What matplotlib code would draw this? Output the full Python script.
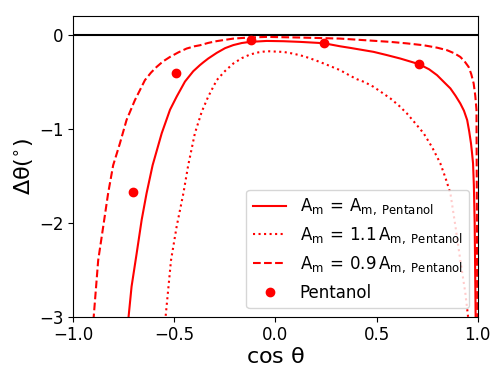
import matplotlib
matplotlib.use("Agg")
import matplotlib.pyplot as plt

# upright greek letters like in the reference
plt.rcParams['mathtext.default'] = 'regular'

# Values
# Solid curve: A_m = A_m,Pentanol
solid_x = [-0.728, -0.711, -0.686, -0.661, -0.637, -0.607, -0.562, -0.521, -0.488,
           -0.447, -0.406, -0.373, -0.356, -0.332, -0.290, -0.249, -0.208, -0.166,
           -0.125, -0.043, 0.040, 0.122, 0.238, 0.320, 0.370, 0.485, 0.550, 0.617,
           0.710, 0.760, 0.799, 0.840, 0.865, 0.890, 0.914, 0.932, 0.948, 0.958,
           0.967, 0.972, 0.977, 0.981, 0.985, 0.990]
solid_y = [-3.05, -2.68, -2.33, -1.97, -1.69, -1.39, -1.05, -0.80, -0.66,
           -0.50, -0.39, -0.325, -0.295, -0.255, -0.195, -0.145, -0.112, -0.090,
           -0.078, -0.068, -0.071, -0.078, -0.092, -0.125, -0.142, -0.184, -0.218, -0.255,
           -0.315, -0.370, -0.432, -0.520, -0.573, -0.650, -0.733, -0.810, -0.91, -1.03,
           -1.16, -1.26, -1.37, -1.60, -2.0, -3.05]

# Dotted curve: A_m = 1.1 A_m,Pentanol
dot_x = [-0.545, -0.516, -0.488, -0.455, -0.431, -0.398, -0.364, -0.332, -0.290,
         -0.250, -0.208, -0.165, -0.125, -0.085, -0.043, 0.040, 0.080, 0.122, 0.165,
         0.205, 0.245, 0.287, 0.320, 0.370, 0.403, 0.440, 0.485, 0.525, 0.568,
         0.610, 0.650, 0.690, 0.733, 0.775, 0.815, 0.840, 0.865, 0.890, 0.914,
         0.939, 0.955]
dot_y = [-3.05, -2.40, -2.04, -1.69, -1.39, -1.05, -0.82, -0.66, -0.485,
         -0.390, -0.308, -0.250, -0.212, -0.190, -0.177, -0.185, -0.200, -0.220, -0.248,
         -0.280, -0.313, -0.350, -0.379, -0.439, -0.475, -0.505, -0.556, -0.615, -0.679,
         -0.755, -0.839, -0.940, -1.051, -1.200, -1.369, -1.520, -1.688, -2.04, -2.40,
         -2.75, -3.05]

# Dashed curve: A_m = 0.9 A_m,Pentanol
dash_x = [-0.900, -0.876, -0.851, -0.827, -0.802, -0.769, -0.736, -0.695, -0.645,
          -0.615, -0.587, -0.555, -0.521, -0.480, -0.439, -0.400, -0.373, -0.332,
          -0.290, -0.208, -0.130, -0.043, 0.122, 0.320, 0.568, 0.650, 0.733, 0.800,
          0.849, 0.885, 0.914, 0.935, 0.955, 0.968, 0.980, 0.988, 0.994, 0.998]
dash_y = [-3.05, -2.40, -2.04, -1.69, -1.39, -1.16, -0.91, -0.70, -0.485,
          -0.405, -0.344, -0.285, -0.238, -0.190, -0.149, -0.125, -0.114, -0.089,
          -0.070, -0.043, -0.032, -0.025, -0.032, -0.043, -0.078, -0.094, -0.114, -0.140,
          -0.167, -0.200, -0.238, -0.285, -0.344, -0.420, -0.52, -0.65, -0.80, -3.05]

# Measured points for pentanol
pent_x = [-0.703, -0.492, -0.120, 0.241, 0.710]
pent_y = [-1.677, -0.414, -0.053, -0.092, -0.315]

fig = plt.figure(figsize=(4.94, 3.66), dpi=100)
ax = fig.add_axes([0.148, 0.135, 0.819, 0.822])

# Reference line at zero
ax.axhline(0, color='black', lw=1.5)

ax.plot(solid_x, solid_y, '-', color='red', lw=1.5,
        label=r'$A_m\,=\,A_{m,\ Pentanol}$')
ax.plot(dot_x, dot_y, ':', color='red', lw=1.5,
        label=r'$A_m\,=\,1.1\,A_{m,\ Pentanol}$')
ax.plot(dash_x, dash_y, '--', color='red', lw=1.5,
        label=r'$A_m\,=\,0.9\,A_{m,\ Pentanol}$')
ax.plot(pent_x, pent_y, 'o', color='red', ms=6, label='Pentanol')

ax.set_xlim(-1, 1)
ax.set_ylim(-3, 0.2)
ax.set_xticks([-1.0, -0.5, 0.0, 0.5, 1.0])
ax.set_yticks([-3, -2, -1, 0])
ax.tick_params(labelsize=12)

ax.set_xlabel(r'$\cos\,\theta$', fontsize=16, labelpad=2)
ax.set_ylabel(r'$\Delta\theta(^{\circ})$', fontsize=16, labelpad=2)

ax.legend(loc='lower right', fontsize=12)

fig.savefig('out.png', dpi=100)
